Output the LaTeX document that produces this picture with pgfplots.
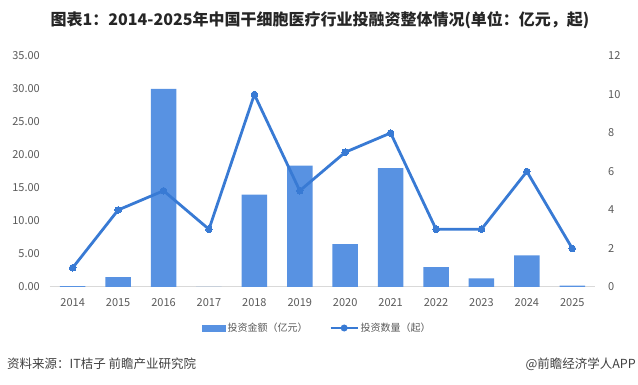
\documentclass[border=0pt]{standalone}
\usepackage{fontspec}
\setmainfont{Noto Sans CJK SC}
\usepackage{pgfplots}
\pgfplotsset{compat=1.18}
\definecolor{barc}{RGB}{88,146,226}
\definecolor{linec}{RGB}{56,122,212}
\definecolor{tickc}{RGB}{89,89,89}
\definecolor{axc}{RGB}{217,217,217}
\definecolor{titc}{RGB}{38,38,38}
\definecolor{footc}{RGB}{64,64,64}
\begin{document}
\begin{tikzpicture}[x=1pt,y=1pt]
\path[use as bounding box] (0,0) rectangle (638,385);
\node[font=\fontsize{16}{19}\selectfont\bfseries, text=titc, anchor=center, inner sep=0pt] at (320,365) {图表1：2014-2025年中国干细胞医疗行业投融资整体情况(单位：亿元，起)};
\begin{axis}[
  at={(50pt,98pt)}, anchor=south west,
  scale only axis, width=545pt, height=231pt,
  xmin=-0.5, xmax=11.5, ymin=0, ymax=35,
  xtick={0,...,11},
  xticklabels={2014,2015,2016,2017,2018,2019,2020,2021,2022,2023,2024,2025},
  ytick={0,5,...,35},
  axis x line*=bottom, axis y line*=left,
  x axis line style={draw=axc, line width=1pt, -},
  y axis line style={draw=none},
  major tick length=0pt,
  tick label style={font=\fontsize{11}{13}\selectfont, text=tickc, inner sep=0pt},
  xticklabel style={anchor=center, yshift=-16pt},
  yticklabel style={anchor=east, xshift=-10pt},
  /pgf/number format/.cd, fixed, fixed zerofill, precision=2, assume math mode=true,
]
\addplot[ybar, bar width=25.5pt, fill=barc, draw=none] coordinates {
 (0,0.15) (1,1.5) (2,30) (3,0) (4,14) (5,18.4) (6,6.5) (7,18) (8,3) (9,1.3) (10,4.8) (11,0.2)
};
\end{axis}
\begin{axis}[
  at={(50pt,98pt)}, anchor=south west,
  scale only axis, width=545pt, height=231pt,
  xmin=-0.5, xmax=11.5, ymin=0, ymax=12,
  ytick={0,2,...,12},
  axis y line*=right, axis x line=none,
  y axis line style={draw=none},
  major tick length=0pt,
  tick label style={font=\fontsize{11}{13}\selectfont, text=tickc, inner sep=0pt},
  yticklabel style={anchor=west, xshift=13pt},
  /pgf/number format/assume math mode=true,
  legend columns=2,
  legend style={draw=none, fill=none, at={(0.279,-0.1775)}, anchor=west,
    font=\fontsize{10}{12}\selectfont, text=tickc, inner sep=0pt,
    nodes={inner sep=2pt},
    /tikz/every even column/.append style={column sep=20pt}},
]
\addlegendimage{legend image code/.code={\fill[barc] (0pt,-3pt) rectangle (23pt,3pt);}}
\addlegendentry{投资金额（亿元）}
\addplot[color=linec, line width=2.8pt, mark=*, mark size=3.3pt, mark options={fill=linec, draw=linec, line width=0pt},
  legend image code/.code={\draw[linec, line width=2pt] (0pt,0pt) -- (27pt,0pt); \fill[linec] (13.5pt,0pt) circle (2pt);}]
 coordinates {
 (0,1) (1,4) (2,5) (3,3) (4,10) (5,5) (6,7) (7,8) (8,3) (9,3) (10,6) (11,2)
};
\addlegendentry{投资数量（起）}
\end{axis}
\node[font=\fontsize{12.5}{15}\selectfont, text=footc, anchor=west, inner sep=0pt] at (7,21) {资料来源：IT桔子 前瞻产业研究院};
\node[font=\fontsize{12.5}{15}\selectfont, text=footc, anchor=east, inner sep=0pt] at (636,21) {@前瞻经济学人APP};
\end{tikzpicture}
\end{document}
